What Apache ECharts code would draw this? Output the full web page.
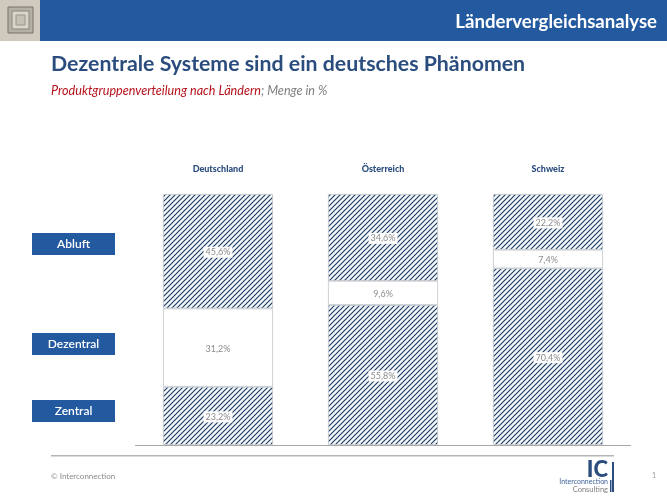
<!DOCTYPE html>
<html>
<head>
<meta charset="utf-8">
<style>
  html, body { margin: 0; padding: 0; background: #fff; }
  #main { width: 667px; height: 500px; }
</style>
<script src="https://cdn.jsdelivr.net/npm/echarts@6/dist/echarts.min.js"></script>
</head>
<body>
<div id="main"></div>
<script>
var laender = ['Deutschland', 'Österreich', 'Schweiz'];
var zentral = [23.2, 55.8, 70.4];
var dezentral = [31.2, 9.6, 7.4];
var abluft = [45.6, 34.6, 22.2];

var fontName = 'Lato';
var blau = '#23599f';
var dunkelblau = '#2b4d7e';

// Schraffur als kleine Kachel
function makeHatch() {
  var size = 5;
  var c = document.createElement('canvas');
  c.width = size;
  c.height = size;
  var ctx = c.getContext('2d');
  ctx.fillStyle = '#f4f8fb';
  ctx.fillRect(0, 0, size, size);
  ctx.strokeStyle = '#1f3d66';
  ctx.lineWidth = 1.2;
  ctx.beginPath();
  ctx.moveTo(-size, size); ctx.lineTo(size, -size);
  ctx.moveTo(0, size); ctx.lineTo(size, 0);
  ctx.moveTo(0, size * 2); ctx.lineTo(size * 2, 0);
  ctx.stroke();
  return c;
}
var hatch = { image: makeHatch(), repeat: 'repeat' };

function makeSeries(name, values, fill) {
  return {
    name: name,
    type: 'bar',
    stack: 'menge',
    barWidth: 110,
    data: values,
    itemStyle: { color: fill, borderColor: '#c2c5c9', borderWidth: 0.8 },
    label: {
      show: true,
      position: 'inside',
      offset: [0, 1],
      color: '#8c8c8c',
      fontFamily: fontName,
      fontSize: 9,
      backgroundColor: '#fff',
      padding: [1, 2],
      formatter: function (p) { return p.value.toFixed(1).replace('.', ',') + '%'; }
    }
  };
}

function legendBox(text, y) {
  return [
    { type: 'rect', shape: { x: 32, y: y, width: 83, height: 22 }, style: { fill: blau } },
    { type: 'text', x: 73.5, y: y + 11, style: { text: text, fill: '#fff', font: '600 12px ' + fontName, align: 'center', verticalAlign: 'middle' } }
  ];
}

var graphics = [
  // Kopfzeile
  { type: 'rect', shape: { x: 0, y: 0, width: 667, height: 41 }, style: { fill: blau } },
  { type: 'rect', shape: { x: 0, y: 0, width: 40, height: 41 }, style: { fill: '#cfcabd' } },
  { type: 'rect', shape: { x: 8, y: 7, width: 25, height: 26 }, style: { fill: '#b5b0a4', stroke: '#77736a', lineWidth: 1 } },
  { type: 'rect', shape: { x: 12, y: 11, width: 17, height: 18 }, style: { fill: '#d8d4c9', stroke: '#8a867c', lineWidth: 1 } },
  { type: 'rect', shape: { x: 16, y: 15, width: 9, height: 10 }, style: { fill: '#c4c0b4', stroke: '#9a968c', lineWidth: 1 } },
  { type: 'text', x: 657, y: 22, style: { text: 'Ländervergleichsanalyse', fill: '#fff', font: '700 18.6px ' + fontName, align: 'right', verticalAlign: 'middle' } },
  // Titel
  { type: 'text', x: 51, y: 64, style: { text: 'Dezentrale Systeme sind ein deutsches Phänomen', fill: dunkelblau, font: '700 21.3px ' + fontName, verticalAlign: 'middle' } },
  { type: 'text', x: 51, y: 91, style: { rich: { r: { fill: '#b5121b', font: 'italic 12.6px ' + fontName }, g: { fill: '#7f7f7f', font: 'italic 12.6px ' + fontName } }, text: '{r|Produktgruppenverteilung nach Ländern}{g|; Menge in %}', verticalAlign: 'middle' } },
  // Fusszeile
  { type: 'rect', shape: { x: 51, y: 455, width: 563, height: 1.5 }, style: { fill: '#b5b5b5' } },
  { type: 'text', x: 51, y: 476, style: { text: '© Interconnection', fill: '#8c8c8c', font: '8px ' + fontName, verticalAlign: 'middle' } },
  { type: 'text', x: 652, y: 476, style: { text: '1', fill: '#999', font: '7px ' + fontName, verticalAlign: 'middle' } },
  // Logo
  { type: 'text', x: 608, y: 470, style: { text: 'IC', fill: dunkelblau, font: '900 22px ' + fontName, align: 'right', verticalAlign: 'middle' } },
  { type: 'text', x: 608, y: 481.5, style: { text: 'Interconnection', fill: '#3f659b', font: '7px ' + fontName, align: 'right', verticalAlign: 'middle' } },
  { type: 'text', x: 608, y: 489.5, style: { text: 'Consulting', fill: '#7f7f7f', font: '7.5px ' + fontName, align: 'right', verticalAlign: 'middle' } },
  { type: 'rect', shape: { x: 612, y: 462, width: 2, height: 30 }, style: { fill: dunkelblau } },
  { type: 'rect', shape: { x: 610, y: 480, width: 1.5, height: 12 }, style: { fill: dunkelblau } }
].concat(legendBox('Abluft', 233), legendBox('Dezentral', 333), legendBox('Zentral', 400));

var myChart = echarts.init(document.getElementById('main'));
myChart.setOption({
  animation: false,
  backgroundColor: '#fff',
  grid: { left: 135.5, right: 36.5, top: 194, bottom: 55 },
  xAxis: [
    {
      type: 'category',
      data: laender,
      axisLine: { lineStyle: { color: '#a6a6a6', width: 1 } },
      axisTick: { show: false },
      axisLabel: { show: false }
    },
    {
      type: 'category',
      position: 'top',
      data: laender,
      axisLine: { show: false },
      axisTick: { show: false },
      axisLabel: { color: dunkelblau, fontFamily: fontName, fontWeight: 900, fontSize: 9, margin: 20 }
    }
  ],
  yAxis: { type: 'value', min: 0, max: 100, show: false },
  series: [
    makeSeries('Zentral', zentral, hatch),
    makeSeries('Dezentral', dezentral, '#ffffff'),
    makeSeries('Abluft', abluft, hatch)
  ],
  graphic: graphics
});
</script>
</body>
</html>
